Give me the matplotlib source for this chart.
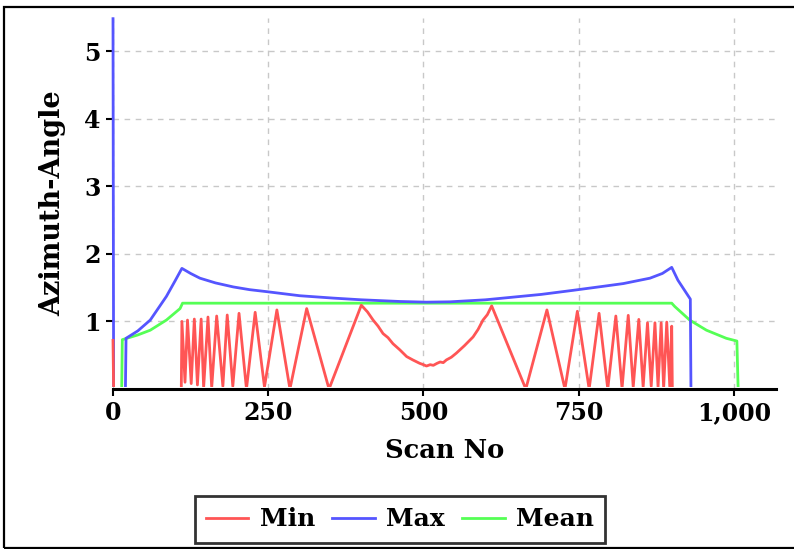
import matplotlib
matplotlib.use("Agg")
import matplotlib.pyplot as plt
import matplotlib.transforms as mtransforms
from matplotlib.patches import Rectangle
from matplotlib.ticker import FuncFormatter

# Min azimuth angle per scan (zigzag vertices)
min_scan = [0, 1, 110, 111, 116, 120, 126, 131, 136, 142, 146, 153, 159, 167, 177, 184, 193,
            203, 215, 229, 244, 264, 285, 312, 348, 400, 410, 419, 427, 435, 443, 451, 462,
            473, 483, 494, 500, 505, 511, 516, 522, 527, 532, 537, 545, 553, 566, 580, 588,
            596, 603, 610, 665, 699, 728, 748, 767, 783, 797, 810, 820, 830, 838, 847, 854,
            861, 867, 873, 878, 883, 887, 892, 897, 900, 901]
min_val = [0.72, 0.0, 0.0, 1.0, 0.10, 1.02, 0.08, 1.035, 0.06, 1.035, 0.02, 1.065, 0.02, 1.08,
           0.04, 1.095, 0.04, 1.12, 0.0, 1.135, 0.03, 1.17, 0.0, 1.19, 0.0, 1.24, 1.14, 1.02,
           0.93, 0.82, 0.76, 0.67, 0.58, 0.48, 0.43, 0.38, 0.36, 0.34, 0.36, 0.35, 0.38, 0.40,
           0.39, 0.43, 0.47, 0.53, 0.64, 0.77, 0.88, 1.02, 1.10, 1.23, 0.0, 1.17, 0.0, 1.15,
           0.0, 1.12, 0.0, 1.08, 0.01, 1.09, 0.03, 1.03, 0.03, 0.98, 0.04, 0.98, 0.03, 0.98,
           0.01, 0.99, 0.01, 0.93, 0.0]

# Max azimuth angle per scan
max_scan = [0, 1, 20, 21, 40, 60, 86, 100, 111, 125, 140, 165, 194, 220, 248, 301, 355, 400,
            462, 505, 543, 600, 634, 690, 741, 790, 822, 865, 885, 900, 910, 930, 931]
max_val = [5.48, 0.0, 0.0, 0.75, 0.86, 1.02, 1.37, 1.6, 1.785, 1.71, 1.64, 1.57, 1.51, 1.47,
           1.44, 1.38, 1.345, 1.32, 1.295, 1.285, 1.29, 1.32, 1.35, 1.40, 1.46, 1.52, 1.56,
           1.64, 1.71, 1.80, 1.61, 1.33, 0.0]

# Mean azimuth angle per scan
mean_scan = [0, 14, 15, 40, 60, 86, 108, 112, 500, 900, 905, 929, 956, 988, 1005, 1007]
mean_val = [0.0, 0.0, 0.73, 0.80, 0.87, 1.02, 1.19, 1.27, 1.27, 1.27, 1.22, 1.02, 0.87, 0.75,
            0.71, 0.0]

x_ticks = [0, 250, 500, 750, 1000]
y_ticks = [1, 2, 3, 4, 5]


def main():
    plt.rcParams['font.family'] = ['DejaVu Serif']
    plt.rcParams['font.weight'] = 'bold'
    plt.rcParams['font.size'] = 17

    fig = plt.figure(figsize=(7.94, 5.49), dpi=100)
    ax = fig.add_axes([113 / 794, 160 / 549, 663 / 794, 371 / 549])

    lines = []
    lines += ax.plot(min_scan, min_val, color='#ff5555', lw=2, label='Min', zorder=4)
    lines += ax.plot(max_scan, max_val, color='#5555ff', lw=2, label='Max', zorder=3)
    lines += ax.plot(mean_scan, mean_val, color='#55ff55', lw=2, label='Mean', zorder=2)

    # clip the series just above the x axis so the zero stretches stay hidden
    shift = mtransforms.ScaledTranslation(0, 1.3 / 72, fig.dpi_scale_trans)
    for ln in lines:
        ln.set_clip_path(Rectangle((-0.01, 0), 1.02, 1.05, transform=ax.transAxes + shift))

    ax.set_xlim(0, 1068)
    ax.set_ylim(0, 5.49)
    ax.set_xticks(x_ticks)
    ax.set_yticks(y_ticks)
    ax.xaxis.set_major_formatter(FuncFormatter(lambda v, p: f"{int(v):,}"))
    ax.grid(True, color='#c8c8c8', lw=1, linestyle=(0, (4, 4)))
    ax.set_axisbelow(True)

    for s in ['top', 'right', 'left']:
        ax.spines[s].set_visible(False)
    ax.spines['bottom'].set_linewidth(2.2)
    ax.spines['bottom'].set_zorder(6)
    ax.tick_params(axis='both', length=5, width=1.5, pad=4)

    ax.set_xlabel('Scan No', fontweight='bold', fontsize=18.5, labelpad=9)
    ax.set_ylabel('Azimuth-Angle', fontweight='bold', fontsize=19.5, labelpad=13)

    # legend below the plot, boxed
    leg = fig.legend(loc='center', bbox_to_anchor=(400 / 794, 29.5 / 549), ncol=3,
                     frameon=True, fancybox=False, handlelength=1.7, handletextpad=0.45,
                     columnspacing=0.7, borderpad=0.45, fontsize=18)
    leg.get_frame().set_edgecolor('black')
    leg.get_frame().set_linewidth(2)

    # frame around whole chart
    fig.patches.append(Rectangle((4 / 794, 1 / 549), 1.0, 541 / 549, transform=fig.transFigure,
                                 fill=False, edgecolor='black', lw=1.6))

    plt.savefig("out.png", dpi=100)


if __name__ == "__main__":
    main()
